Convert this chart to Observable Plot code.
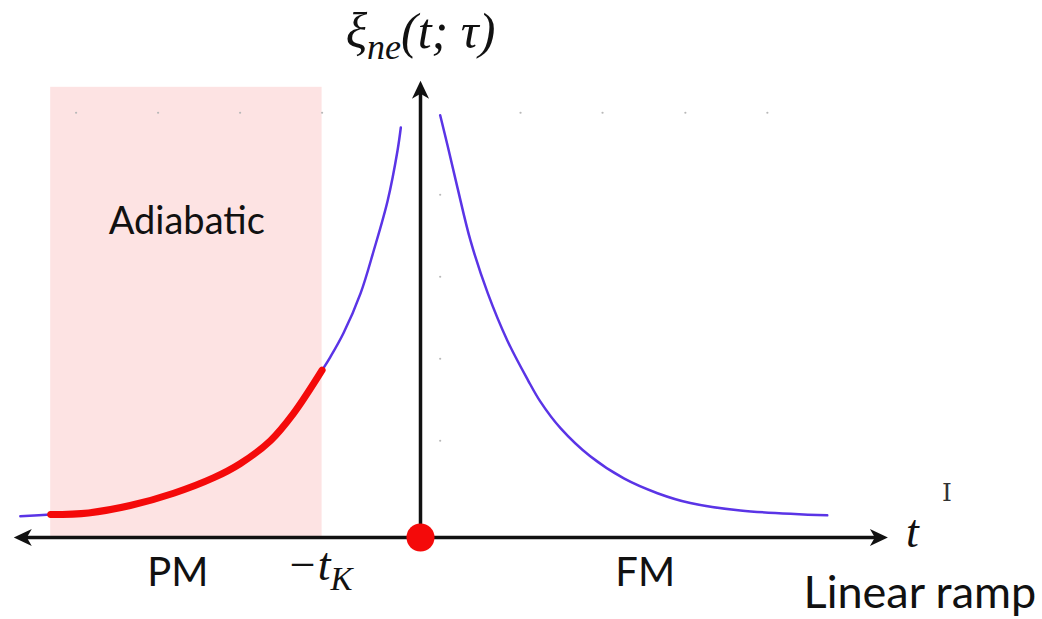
<!DOCTYPE html>
<html><head><meta charset="utf-8">
<script src="https://cdn.jsdelivr.net/npm/d3@7"></script>
<script src="https://cdn.jsdelivr.net/npm/@observablehq/plot@0.6"></script>
<style>html,body{margin:0;padding:0;background:#fff;overflow:hidden}</style>
</head><body><div id="chart"></div>
<script>
// ---- data (t in units, xi in units) ----
const leftT   = [-4.88,-4.51,-4.05,-3.54,-3.01,-2.52,-2.20,-1.83,-1.55,-1.20,-1.10,-0.94,-0.73,-0.57,-0.40,-0.28,-0.24];
const leftXi  = [0.26, 0.28, 0.30, 0.39, 0.54, 0.73, 0.90, 1.18, 1.51, 2.04, 2.20, 2.49, 2.98, 3.50, 4.11, 4.72, 5.00];
const rightT  = [0.24, 0.33, 0.45, 0.61, 0.82, 1.06, 1.31, 1.46, 1.71, 2.07, 2.48, 2.89, 3.29, 3.90, 4.96];
const rightXi = [5.15, 4.78, 4.27, 3.62, 2.98, 2.40, 1.92, 1.66, 1.33, 0.99, 0.72, 0.54, 0.42, 0.33, 0.27];
const tStart = -4.51, tK = -1.20, regionTop = 5.49;
const axisLeft = -4.96, axisRight = 5.70, axisTop = 5.57;
const gridRowX = [-4.2, -3.2, -2.2, -1.2, 1.22, 2.22, 3.23, 4.23];
const gridRowY = 5.18;
const gridColX = 0.24;
const gridColY = [1.18, 2.18, 3.18, 4.18];
const titleLabel = "ξ_{ne}(t; τ)";
const tLabel = "t";
const tKLabel = "−t_{K}";
const regionLabel = "Adiabatic";
const phaseLabels = ["PM", "FM"];
const phaseX = [-2.96, 2.74];
const protocolLabel = "Linear ramp";
const cursorGlyph = "I";

// ---- build tables ----
const curve = [
  ...leftT.map((t, i) => ({t, xi: leftXi[i], branch: "PM"})),
  ...rightT.map((t, i) => ({t, xi: rightXi[i], branch: "FM"}))
];
const adiabatic = curve.filter(d => d.branch === "PM" && d.t >= tStart && d.t <= tK);
const region = [{t1: tStart, t2: tK, y1: 0, y2: regionTop}];
const grid = [...gridRowX.map(t => ({t, xi: gridRowY})), ...gridColY.map(xi => ({t: gridColX, xi}))];
const gap = 0.1;
const axes = [
  {x1: axisLeft + gap, y1: 0, x2: axisRight - gap, y2: 0},
  {x1: 0, y1: 0, x2: 0, y2: axisTop - gap}
];
const heads = [
  {t: axisRight, xi: 0, rot: 90},
  {t: axisLeft, xi: 0, rot: -90},
  {t: 0, xi: axisTop, rot: 0}
];
const math = [
  {s: tLabel, t: 6.0, xi: 0.06},
  {s: tKLabel, t: -1.23, xi: -0.34}
];
const phases = phaseLabels.map((s, i) => ({s, t: phaseX[i], xi: -0.43}));

const arrowHead = {
  draw(ctx, size) {
    const r = Math.sqrt(size / Math.PI);
    ctx.moveTo(0, 0);
    ctx.lineTo(r * 0.95, r * 2);
    ctx.lineTo(0, r * 1.45);
    ctx.lineTo(-r * 0.95, r * 2);
    ctx.closePath();
  }
};

const chart = Plot.plot({
  width: 1042, height: 619, margin: 0,
  x: {domain: [-420 / 82, 622 / 82], axis: null},
  y: {domain: [-82 / 82, 537 / 82], axis: null},
  marks: [
    Plot.rect(region, {x1: "t1", x2: "t2", y1: "y1", y2: "y2", fill: "#fde3e3"}),
    Plot.dot(grid, {x: "t", y: "xi", r: 1.1, fill: "#b8b8b8"}),
    Plot.line(curve, {x: "t", y: "xi", z: "branch", stroke: "#5a34e6", strokeWidth: 2.5, curve: "catmull-rom"}),
    Plot.line(adiabatic, {x: "t", y: "xi", stroke: "#f40a0a", strokeWidth: 7, strokeLinecap: "round", curve: "catmull-rom"}),
    Plot.link(axes, {x1: "x1", y1: "y1", x2: "x2", y2: "y2", stroke: "#111", strokeWidth: 3.5}),
    Plot.dot(heads, {x: "t", y: "xi", rotate: "rot", symbol: arrowHead, r: 9, fill: "#111", stroke: "none"}),
    Plot.dot([{t: 0, xi: 0}], {x: "t", y: "xi", r: 14, fill: "#f40a0a"}),
    Plot.text([{s: titleLabel, t: 0, xi: 6.16}], {x: "t", y: "xi", text: "s", fontFamily: "Liberation Serif", fontStyle: "italic", fontSize: 50, fill: "#111"}),
    Plot.text(math, {x: "t", y: "xi", text: "s", fontFamily: "Liberation Serif", fontStyle: "italic", fontSize: 46, fill: "#111"}),
    Plot.text([{s: regionLabel, t: -2.85, xi: 3.85}], {x: "t", y: "xi", text: "s", fontFamily: "Lato", fontSize: 38, fill: "#111"}),
    Plot.text(phases, {x: "t", y: "xi", text: "s", fontFamily: "Lato", fontSize: 40, fill: "#111"}),
    Plot.text([{s: protocolLabel, t: 6.09, xi: -0.69}], {x: "t", y: "xi", text: "s", fontFamily: "Lato", fontSize: 45, fill: "#111"}),
    Plot.text([{s: cursorGlyph, t: 6.42, xi: 0.54}], {x: "t", y: "xi", text: "s", fontFamily: "DejaVu Serif", fontSize: 25, fill: "#333"})
  ]
});

// subscripts: turn "_{..}" into lowered smaller tspans
for (const el of chart.querySelectorAll("text")) {
  const s = el.textContent;
  if (!s.includes("_{")) continue;
  const g = el.closest("g[font-size]");
  const fs = g ? parseFloat(g.getAttribute("font-size")) : 46;
  const subSize = Math.round(fs * 0.72), shift = Math.round(fs * 0.22);
  el.textContent = "";
  const parts = s.split(/(_\{[^}]*\})/).filter(p => p.length);
  let shifted = false;
  for (const p of parts) {
    const ts = document.createElementNS("http://www.w3.org/2000/svg", "tspan");
    if (p.startsWith("_{")) {
      ts.textContent = p.slice(2, -1);
      ts.setAttribute("font-size", subSize);
      ts.setAttribute("dy", shift);
      shifted = true;
    } else {
      ts.textContent = p;
      if (shifted) { ts.setAttribute("dy", -shift); shifted = false; }
    }
    el.appendChild(ts);
  }
}
document.getElementById("chart").appendChild(chart);
</script>
</body></html>
